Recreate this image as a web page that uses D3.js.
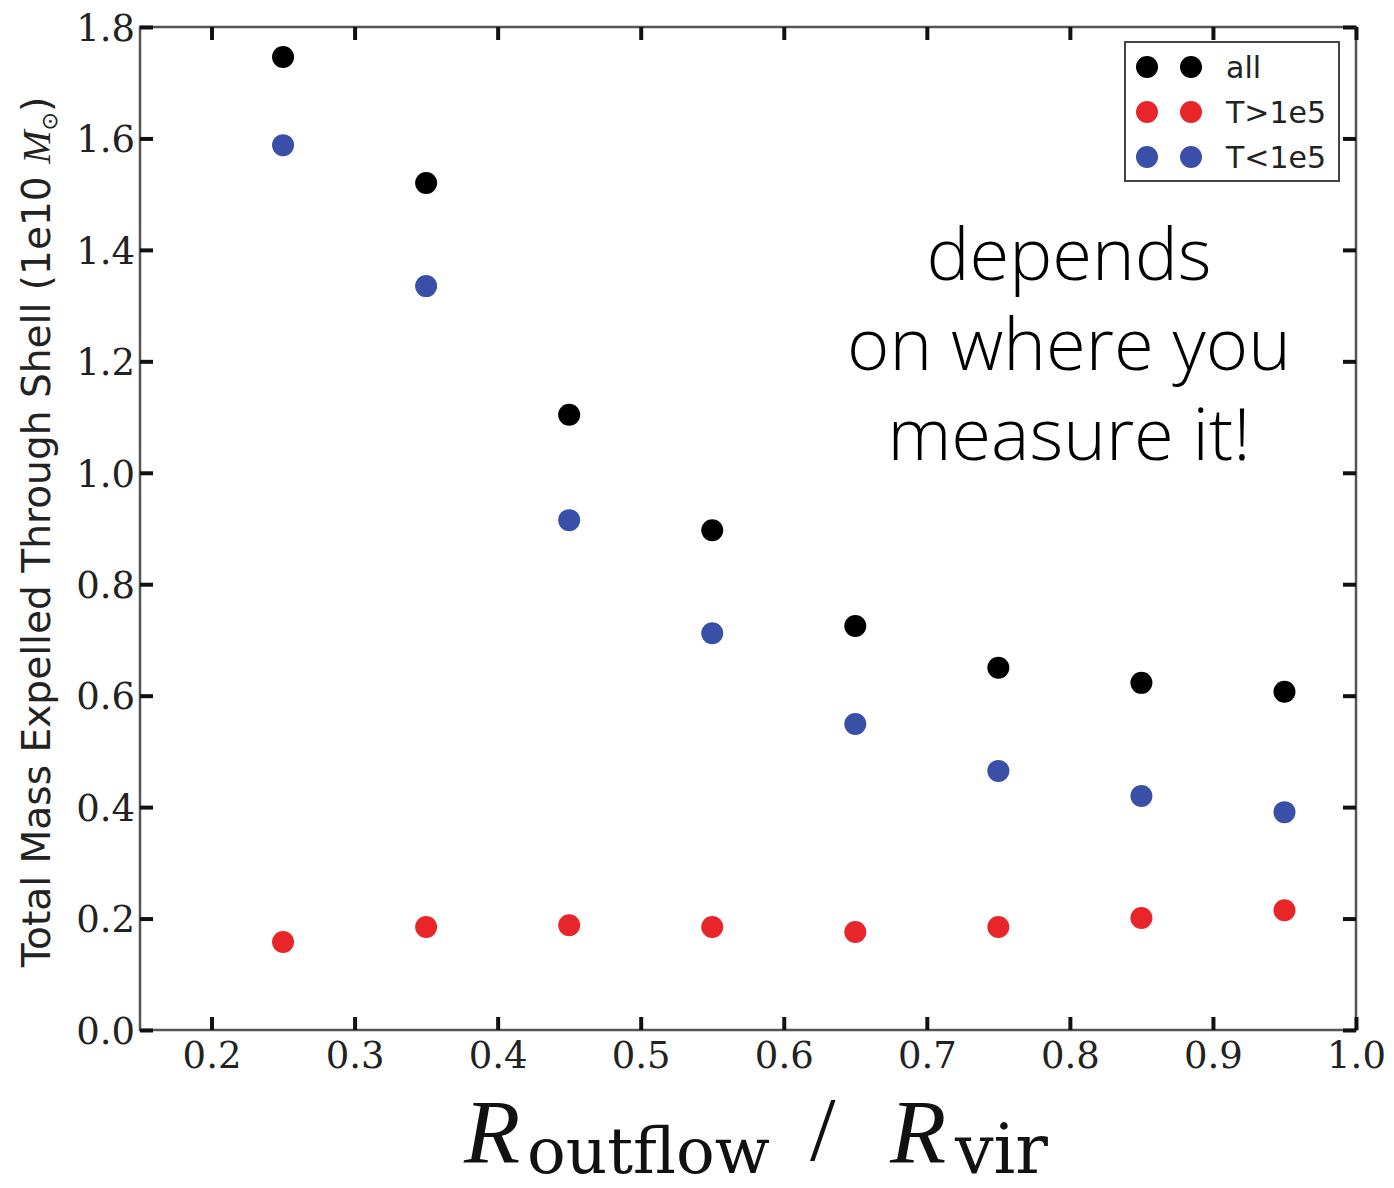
<!DOCTYPE html>
<html><head><meta charset="utf-8">
<script src="https://cdn.jsdelivr.net/npm/d3@7"></script>
<style>body{margin:0;background:#fff}</style>
</head><body>
<svg id="c" width="1394" height="1188"></svg>
<script>
const radii = [0.25, 0.35, 0.45, 0.55, 0.65, 0.75, 0.85, 0.95];
const allMass = [1.746, 1.520, 1.104, 0.897, 0.725, 0.650, 0.623, 0.607];
const hotMass = [0.158, 0.185, 0.188, 0.185, 0.176, 0.185, 0.201, 0.215];
const coldMass = [1.588, 1.335, 0.915, 0.712, 0.549, 0.465, 0.420, 0.391];
const seriesNames = ["all", "T>1e5", "T<1e5"];
const seriesColors = ["#000000", "#e8262a", "#3a4fa8"];
const xTicks = [0.2, 0.3, 0.4, 0.5, 0.6, 0.7, 0.8, 0.9, 1.0];
const yTicks = [0.0, 0.2, 0.4, 0.6, 0.8, 1.0, 1.2, 1.4, 1.6, 1.8];

const svg = d3.select("#c");
const L = 140, R = 1356, T = 27, B = 1030;
const x = d3.scaleLinear().domain([0.15, 1.0]).range([L, R]);
const y = d3.scaleLinear().domain([0, 1.8]).range([B, T]);
const serif = "'DejaVu Serif','Liberation Serif',serif";
const mathSerif = "'Liberation Serif','DejaVu Serif',serif";

// frame
svg.append("rect").attr("x", L).attr("y", T).attr("width", R - L).attr("height", B - T)
  .attr("fill", "none").attr("stroke", "#555").attr("stroke-width", 2.5);

const tk = 13;
const axB = d3.axisBottom(x).tickValues(xTicks).tickFormat(d3.format(".1f")).tickSizeInner(-tk).tickSizeOuter(0).tickPadding(12);
const gB = svg.append("g").attr("transform", `translate(0,${B})`).call(axB);
const axT = d3.axisTop(x).tickValues(xTicks).tickFormat("").tickSizeInner(-tk).tickSizeOuter(0);
const gT = svg.append("g").attr("transform", `translate(0,${T})`).call(axT);
const axL = d3.axisLeft(y).tickValues(yTicks).tickFormat(d3.format(".1f")).tickSizeInner(-tk).tickSizeOuter(0).tickPadding(5);
const gL = svg.append("g").attr("transform", `translate(${L},0)`).call(axL);
const axR = d3.axisRight(y).tickValues(yTicks).tickFormat("").tickSizeInner(-tk).tickSizeOuter(0);
const gR = svg.append("g").attr("transform", `translate(${R},0)`).call(axR);
[gB, gT, gL, gR].forEach(g => {
  g.select(".domain").remove();
  g.selectAll(".tick line").attr("stroke", "#111").attr("stroke-width", 4);
  g.selectAll("text").attr("font-family", serif).attr("font-size", 37).attr("fill", "#222");
});
gL.selectAll("text").attr("dy", "0.36em");
gB.selectAll("text").attr("dy", "0.71em");

// points
const series = [allMass, hotMass, coldMass];
series.forEach((vals, i) => {
  svg.append("g").selectAll("circle").data(radii).join("circle")
    .attr("cx", d => x(d)).attr("cy", (d, j) => y(vals[j])).attr("r", 11)
    .attr("fill", seriesColors[i]);
});

// legend
const lg = svg.append("g");
lg.append("rect").attr("x", 1125).attr("y", 42).attr("width", 214).attr("height", 139)
  .attr("fill", "#fff").attr("stroke", "#444").attr("stroke-width", 2);
seriesNames.forEach((n, i) => {
  const cy = 67 + i * 45;
  [1147, 1191].forEach(cx => lg.append("circle").attr("cx", cx).attr("cy", cy).attr("r", 11).attr("fill", seriesColors[i]));
  lg.append("text").attr("x", 1226).attr("y", cy + 11).text(n)
    .attr("font-family", "'DejaVu Sans',sans-serif").attr("font-size", 30).attr("fill", "#222");
});

// annotation
const ann = ["depends", "on where you", "measure it!"];
const at = svg.append("g").selectAll("text").data(ann).join("text")
  .attr("x", 1069).attr("y", (d, i) => 280 + i * 90).attr("text-anchor", "middle")
  .attr("font-family", "'Open Sans',Roboto,sans-serif").attr("font-weight", 300)
  .attr("font-size", 64).attr("fill", "#000").text(d => d);
const w1 = at.nodes()[1].getComputedTextLength();
at.attr("font-size", 64 * 444 / w1);

// y label
const yl = svg.append("text").attr("transform", "translate(50,532) rotate(-90)")
  .attr("text-anchor", "middle").attr("font-family", "'DejaVu Sans',sans-serif")
  .attr("font-size", 36).attr("fill", "#222");
yl.append("tspan").text("Total Mass Expelled Through Shell (1e10 ");
yl.append("tspan").attr("font-family", mathSerif).attr("font-style", "italic").attr("font-size", 40).text("M");
yl.append("tspan").attr("font-size", 22).attr("dy", 7).text("⊙");
yl.append("tspan").attr("dy", -7).text(")");
const ylw = yl.node().getComputedTextLength();
yl.attr("font-size", 36 * 875 / ylw);

// x label
const xlg = svg.append("g").attr("fill", "#111");
const parts = [
  {t: "R", x: 464, y: 1163, s: 92, it: true, f: mathSerif, w: 0},
  {t: "outflow", x: 527, y: 1173, s: 64, it: false, f: serif, w: 243},
  {t: "/", x: 810, y: 1160, s: 92, it: false, f: mathSerif, w: 0},
  {t: "R", x: 890, y: 1163, s: 92, it: true, f: mathSerif, w: 0},
  {t: "vir", x: 955, y: 1173, s: 64, it: false, f: serif, w: 93}
];
const xt = xlg.selectAll("text").data(parts).join("text")
  .attr("x", d => d.x).attr("y", d => d.y).attr("font-size", d => d.s)
  .attr("font-family", d => d.f)
  .attr("font-style", d => d.it ? "italic" : "normal").text(d => d.t);
xt.each(function(d) {
  if (d.w) {
    const w = this.getComputedTextLength();
    d3.select(this).attr("font-size", d.s * d.w / w);
  }
});
</script>
</body></html>
